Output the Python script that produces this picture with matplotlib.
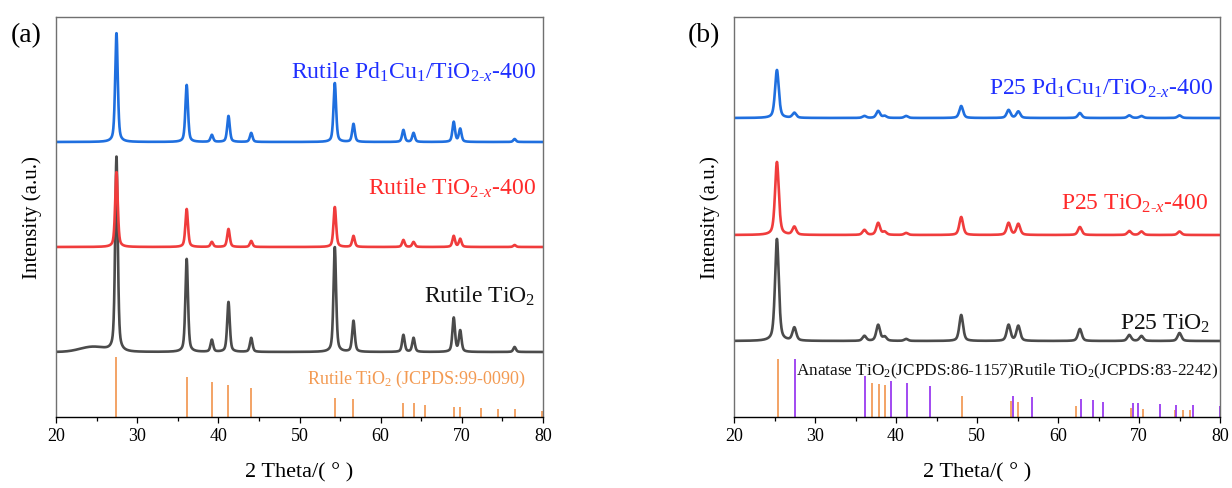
import numpy as np
import matplotlib
matplotlib.use('Agg')
import matplotlib.pyplot as plt
from matplotlib.ticker import MultipleLocator

plt.rcParams['font.family'] = ['Liberation Serif', 'DejaVu Serif']
plt.rcParams['mathtext.fontset'] = 'custom'
plt.rcParams['mathtext.rm'] = 'Liberation Serif'
plt.rcParams['mathtext.it'] = 'Liberation Serif:italic'

# ---------------- panel (a): rutile ----------------
# peak positions (2theta) and heights (a.u.)
rut_pos = [27.45, 36.1, 39.2, 41.25, 44.05, 54.35, 56.65, 62.8, 64.05, 69.0, 69.8, 76.5]
rut_black_h = [195, 93, 12, 50, 14, 105, 31, 17, 14, 34, 21, 5]
rut_red_h = [75, 38, 5, 18, 6, 40, 11, 7, 5, 11, 8, 2]
rut_blue_h = [109, 57, 7, 26, 9, 59, 18, 12, 9, 20, 13, 3]
a_offsets = [65, 170, 275]          # black, red, blue baselines

ref_a_pos = [27.45, 36.1, 39.2, 41.25, 44.05, 54.35, 56.65, 62.8, 64.05, 65.5,
             69.0, 69.8, 72.4, 74.45, 76.5, 79.9]
ref_a_h = [60, 40, 35, 32, 29, 19, 18, 14, 14, 12, 10, 10, 9, 8, 8, 6]

# ---------------- panel (b): P25 ----------------
p25_pos = [25.3, 27.45, 36.1, 37.8, 38.6, 41.25, 48.05, 53.9, 55.1, 62.7, 68.8, 70.3, 75.0]
p25_black_h = [102, 13, 5, 16, 4, 2, 26, 16, 15, 12, 6, 5, 8]
p25_red_h = [73, 8, 5, 12, 3, 2, 18, 12, 11, 8, 4, 3.5, 3.5]
p25_blue_h = [48, 5, 2, 7, 2, 2, 12, 8, 6.5, 5, 2.6, 2, 2.6]
b_offsets = [76, 182, 299]

anat_pos = [25.43, 37.08, 37.9, 38.7, 48.2, 54.16, 55.1, 62.2, 69.05, 70.5, 74.4, 75.4, 76.3]
anat_h = [58, 34, 33, 32, 21, 16, 15, 11, 9, 8, 7, 7, 7]
rut_ref_pos = [27.57, 36.17, 39.38, 41.36, 44.16, 54.5, 56.8, 62.8, 64.3, 65.6,
               69.2, 69.9, 72.6, 74.6, 76.7, 80.0]
rut_ref_h = [58, 41, 36, 34, 31, 21, 20, 18, 17, 15, 14, 14, 13, 12, 12, 11]

x = np.arange(20, 80.001, 0.02)


def pattern(pos, h, w):
    # pseudo-Voigt peaks on a flat baseline
    y = np.zeros_like(x)
    for p, a in zip(pos, h):
        lor = (w / 2) ** 2 / ((x - p) ** 2 + (w / 2) ** 2)
        gau = np.exp(-4 * np.log(2) * ((x - p) / w) ** 2)
        y += a * (0.5 * lor + 0.5 * gau)
    return y


c_black = '#4b4b4b'
c_red = '#f03c3c'
c_blue = '#1f6fdf'

fig = plt.figure(figsize=(12.32, 4.89), dpi=100)
ax1 = fig.add_axes([56 / 1232, 71 / 489, 487 / 1232, 400 / 489])
ax2 = fig.add_axes([734 / 1232, 71 / 489, 486 / 1232, 400 / 489])

# panel a curves
hump = 5 * np.exp(-((x - 24.5) / 2.2) ** 2)
ax1.plot(x, a_offsets[0] + pattern(rut_pos, rut_black_h, 0.38) + hump, color=c_black, lw=1.9)
ax1.plot(x, a_offsets[1] + pattern(rut_pos, rut_red_h, 0.38), color=c_red, lw=1.9)
ax1.plot(x, a_offsets[2] + pattern(rut_pos, rut_blue_h, 0.38), color=c_blue, lw=1.9)
ax1.vlines(ref_a_pos, 0, ref_a_h, color='#f08a3c', lw=1.1)

lab = 17
ax1.text(0.985, 0.865, r'Rutile Pd$_1$Cu$_1$/TiO$_{2\text{-}\mathit{x}}$-400', transform=ax1.transAxes,
         color='#1f2fff', fontsize=lab, ha='right', va='center')
ax1.text(0.985, 0.575, r'Rutile TiO$_{2\text{-}\mathit{x}}$-400', transform=ax1.transAxes,
         color='#ff2a2a', fontsize=lab, ha='right', va='center')
ax1.text(0.985, 0.305, r'Rutile TiO$_2$', transform=ax1.transAxes,
         color='#111111', fontsize=lab, ha='right', va='center')
ax1.text(0.965, 0.097, r'Rutile TiO$_2$ (JCPDS:99-0090)', transform=ax1.transAxes,
         color='#f39a52', fontsize=13, ha='right', va='center')

# panel b curves
ax2.plot(x, b_offsets[0] + pattern(p25_pos, p25_black_h, 0.55), color=c_black, lw=1.9)
ax2.plot(x, b_offsets[1] + pattern(p25_pos, p25_red_h, 0.55), color=c_red, lw=1.9)
ax2.plot(x, b_offsets[2] + pattern(p25_pos, p25_blue_h, 0.55), color=c_blue, lw=1.9)
ax2.vlines(anat_pos, 0, anat_h, color='#f08a3c', lw=1.1)
ax2.vlines(rut_ref_pos, 0, rut_ref_h, color='#9a3cf0', lw=1.3)

ax2.text(0.985, 0.825, r'P25 Pd$_1$Cu$_1$/TiO$_{2\text{-}\mathit{x}}$-400', transform=ax2.transAxes,
         color='#1f2fff', fontsize=lab, ha='right', va='center')
ax2.text(0.975, 0.535, r'P25 TiO$_{2\text{-}\mathit{x}}$-400', transform=ax2.transAxes,
         color='#ff2a2a', fontsize=lab, ha='right', va='center')
ax2.text(0.98, 0.235, r'P25 TiO$_2$', transform=ax2.transAxes,
         color='#111111', fontsize=lab, ha='right', va='center')
ax2.text(0.997, 0.117, r'Anatase TiO$_2$(JCPDS:86-1157)Rutile TiO$_2$(JCPDS:83-2242)',
         transform=ax2.transAxes, color='#111111', fontsize=12.4, ha='right', va='center')

for ax, tag in [(ax1, '(a)'), (ax2, '(b)')]:
    ax.set_xlim(20, 80)
    ax.set_ylim(0, 400)
    ax.set_yticks([])
    ax.xaxis.set_major_locator(MultipleLocator(10))
    ax.xaxis.set_minor_locator(MultipleLocator(5))
    ax.tick_params(axis='x', which='major', direction='out', length=4, width=0.9, labelsize=13, pad=3)
    ax.tick_params(axis='x', which='minor', direction='out', length=3, width=0.9)
    for s in ['left', 'right', 'top']:
        ax.spines[s].set_color('#707070')
        ax.spines[s].set_linewidth(1.0)
    ax.spines['bottom'].set_color('black')
    ax.spines['bottom'].set_linewidth(1.0)
    ax.set_xlabel('2 Theta/( ° )', fontsize=16, labelpad=13)
    ax.set_ylabel('Intensity (a.u.)', fontsize=15, labelpad=10)
    ax.text(-0.062, 0.955, tag, transform=ax.transAxes, fontsize=20, ha='center', va='center')

fig.savefig('out.png', dpi=100)
